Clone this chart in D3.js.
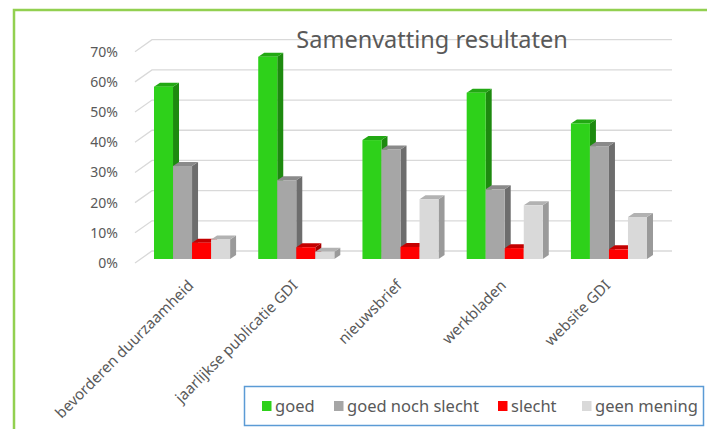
<!DOCTYPE html>
<html>
<head>
<meta charset="utf-8">
<script src="https://cdn.jsdelivr.net/npm/d3@7"></script>
<style>
  body { margin: 0; background: #fff; }
  text { font-family: "Noto Sans", sans-serif; fill: #595959; }
</style>
</head>
<body>
<script>
// Chart size
var width = 707;
var height = 429;

// Data
var categories = ["bevorderen duurzaamheid", "jaarlijkse publicatie GDI", "nieuwsbrief", "werkbladen", "website GDI"];
var seriesNames = ["goed", "goed noch slecht", "slecht", "geen mening"];
var goed = [0.571, 0.670, 0.394, 0.551, 0.449];
var goedNochSlecht = [0.308, 0.261, 0.363, 0.231, 0.374];
var slecht = [0.054, 0.039, 0.040, 0.036, 0.032];
var geenMening = [0.065, 0.024, 0.198, 0.178, 0.139];
var yTicks = [0, 0.1, 0.2, 0.3, 0.4, 0.5, 0.6, 0.7];

var values = [goed, goedNochSlecht, slecht, geenMening];

// front / side / top colour of each series
var colors = {
    "goed": ["#2ed11a", "#1d8a0f", "#22a813"],
    "goed noch slecht": ["#a6a6a6", "#6d6d6d", "#8a8a8a"],
    "slecht": ["#ff0000", "#a80000", "#c40000"],
    "geen mening": ["#d9d9d9", "#9a9a9a", "#b2b2b2"]
};

// depth of the bars and of the floor
var barDx = 6, barDy = -4;
var wallDx = 17;

var svg = d3.select("body")
    .append("svg")
    .attr("width", width)
    .attr("height", height);

// Scales
var y = d3.scaleLinear().domain([0, 0.7]).range([259, 47.7]);
var x0 = d3.scaleBand().domain(categories).range([154, 647]).paddingInner(0.27);
var x1 = d3.scaleBand().domain(seriesNames).range([0, x0.bandwidth()]);

// Green frame
svg.append("path")
    .attr("d", "M14," + height + "V10H" + width)
    .attr("fill", "none")
    .attr("stroke", "#92d050")
    .attr("stroke-width", 2.5);

// Gridlines on the back wall, with the diagonal on the side wall
var grid = svg.append("g");
yTicks.forEach(function(t) {
    grid.append("path")
        .attr("d", "M135," + (y(t) + 4) + "L" + (135 + wallDx) + "," + (y(t) - 8) + "H672")
        .attr("fill", "none")
        .attr("stroke", "#d9d9d9")
        .attr("stroke-width", 1.3);
});

// Y axis labels
svg.append("g").selectAll("text")
    .data(yTicks)
    .enter()
    .append("text")
    .attr("x", 118)
    .attr("y", function(d) { return y(d) + 4; })
    .attr("dy", "0.35em")
    .attr("text-anchor", "end")
    .style("font-size", "14px")
    .text(d3.format(".0%"));

// Title
svg.append("text")
    .attr("x", 432)
    .attr("y", 48)
    .attr("text-anchor", "middle")
    .style("font-size", "23.5px")
    .text("Samenvatting resultaten");

// Bars, drawn left to right so each front covers the previous side
categories.forEach(function(cat, ci) {
    seriesNames.forEach(function(s, si) {
        var v = values[si][ci];
        var xl = x0(cat) + x1(s);
        var w = x1.bandwidth();
        var top = y(v), base = y(0);
        var c = colors[s];
        var g = svg.append("g");
        g.append("polygon")
            .attr("points", [[xl + w, top], [xl + w + barDx, top + barDy], [xl + w + barDx, base + barDy], [xl + w, base]].join(" "))
            .attr("fill", c[1]);
        g.append("polygon")
            .attr("points", [[xl, top], [xl + barDx, top + barDy], [xl + w + barDx, top + barDy], [xl + w, top]].join(" "))
            .attr("fill", c[2]);
        g.append("rect")
            .attr("x", xl)
            .attr("y", top)
            .attr("width", w)
            .attr("height", base - top)
            .attr("fill", c[0]);
    });
});

// Category labels, rotated
svg.append("g").selectAll("text")
    .data(categories)
    .enter()
    .append("text")
    .attr("transform", function(d) {
        return "translate(" + (x0(d) + x0.bandwidth() / 2 - 5) + ",279) rotate(-45)";
    })
    .attr("text-anchor", "end")
    .attr("dy", "0.7em")
    .style("font-size", "15px")
    .text(function(d) { return d; });

// Legend
svg.append("rect")
    .attr("x", 244.5)
    .attr("y", 386.5)
    .attr("width", 459)
    .attr("height", 39)
    .attr("fill", "#fff")
    .attr("stroke", "#5b9bd5")
    .attr("stroke-width", 1.5);

var legendX = [262, 334, 498, 582];
var legend = svg.selectAll("g.legend")
    .data(seriesNames)
    .enter()
    .append("g")
    .attr("class", "legend")
    .attr("transform", function(d, i) { return "translate(" + legendX[i] + ",401)"; });

legend.append("rect")
    .attr("width", 9.5)
    .attr("height", 10)
    .attr("fill", function(d) { return colors[d][0]; });

legend.append("text")
    .attr("x", 13)
    .attr("y", 5)
    .attr("dy", "0.35em")
    .style("font-size", "16.5px")
    .text(function(d) { return d; });
</script>
</body>
</html>
